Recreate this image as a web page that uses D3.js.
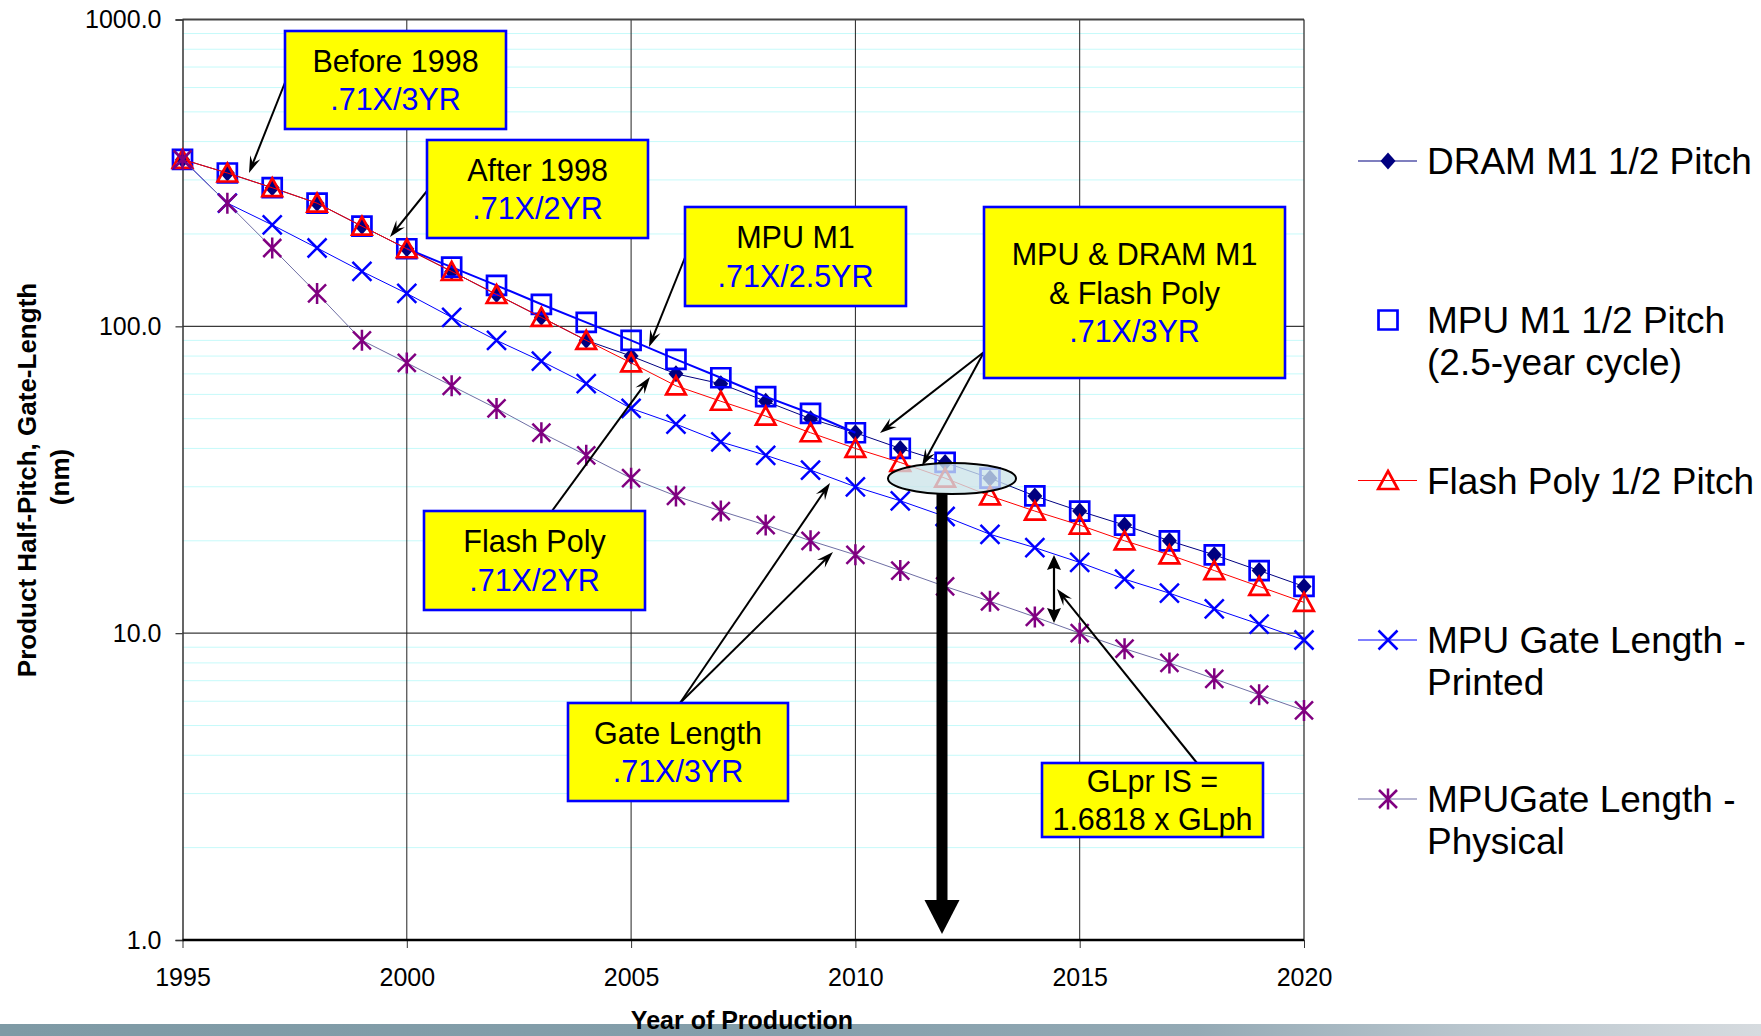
<!DOCTYPE html>
<html>
<head>
<meta charset="utf-8">
<script src="https://cdn.jsdelivr.net/npm/d3@7"></script>
<style>
  html, body { margin: 0; padding: 0; background: #ffffff; }
  svg { display: block; font-family: "Liberation Sans", Arial, sans-serif; }
</style>
</head>
<body>
<svg id="chart" width="1761" height="1036"></svg>
<script>
// ---- Data: feature size (nm) by year of production ----
const years = [1995, 1996, 1997, 1998, 1999, 2000, 2001, 2002, 2003, 2004, 2005, 2006, 2007,
               2008, 2009, 2010, 2011, 2012, 2013, 2014, 2015, 2016, 2017, 2018, 2019, 2020];

const dramM1HalfPitch = [350, 316, 283, 252, 212, 179, 151, 127, 107, 90, 80, 70, 65,
                         57, 50, 45, 40, 36, 32, 28, 25, 22.5, 20, 18, 16, 14.2];

const mpuM1HalfPitch = [350, 316, 283, 252, 212, 179, 156, 136, 118, 103, 90, 78, 68,
                        59, 52, 45, 40, 36, 32, 28, 25, 22.5, 20, 18, 16, 14.2];

const flashPolyHalfPitch = [350, 316, 283, 252, 212, 179, 151, 127, 107, 90, 76, 64, 57,
                            51, 45, 40, 36, 32, 28, 25, 22.5, 20, 18, 16, 14.2, 12.6];

const mpuGateLengthPrinted = [350, 252, 214, 180, 151, 128, 107, 90, 77, 65, 54, 48, 42,
                              38, 34, 30, 27, 24, 21, 19, 17, 15, 13.5, 12, 10.7, 9.5];

const mpuGateLengthPhysical = [350, 252, 180, 128, 90, 76, 64, 54, 45, 38, 32, 28, 25,
                               22.5, 20, 18, 16, 14.2, 12.7, 11.3, 10, 8.9, 8, 7.1, 6.3, 5.6];

// MPU M1 pitch follows its own 2.5-year cycle between these years
const mpuCycleYears = [2000, 2010];

const yTicks = [1, 10, 100, 1000];
const xTicks = [1995, 2000, 2005, 2010, 2015, 2020];

const legendLabels = [
  ["DRAM M1 1/2 Pitch"],
  ["MPU M1 1/2 Pitch", "(2.5-year cycle)"],
  ["Flash Poly 1/2 Pitch"],
  ["MPU Gate Length -", "Printed"],
  ["MPUGate Length -", "Physical"]
];

// ---- Series styling ----
const series = [
  { name: legendLabels[0], values: dramM1HalfPitch, marker: "diamond", line: "#000080", lineWidth: 1, legendLine: true },
  { name: legendLabels[1], values: mpuM1HalfPitch, marker: "square", line: "#0000ff", lineWidth: 2, legendLine: false, lineRange: mpuCycleYears },
  { name: legendLabels[2], values: flashPolyHalfPitch, marker: "triangle", line: "#ff0000", lineWidth: 1, legendLine: true },
  { name: legendLabels[3], values: mpuGateLengthPrinted, marker: "cross", line: "#0000ff", lineWidth: 1, legendLine: true },
  { name: legendLabels[4], values: mpuGateLengthPhysical, marker: "star", line: "#6e6ea4", lineWidth: 1, legendLine: true }
];

const FONT = "'Liberation Sans', Arial, sans-serif";
const svg = d3.select("#chart");

const plot = { left: 182.5, right: 1304, top: 19.5, bottom: 940 };
const x = d3.scaleLinear().domain([1995, 2020]).range([plot.left, plot.right]);
const y = d3.scaleLog().domain([1, 1000]).range([plot.bottom, plot.top]);

// ---- Background gridlines ----
const grid = svg.append("g");
const minorVals = [];
[1, 10, 100].forEach(dec => { for (let k = 2; k <= 9; k++) minorVals.push(dec * k); });
grid.selectAll("line.minor").data(minorVals).join("line")
  .attr("x1", plot.left).attr("x2", plot.right)
  .attr("y1", d => y(d)).attr("y2", d => y(d))
  .attr("stroke", "#c6fafa").attr("stroke-width", 1);

grid.selectAll("line.majorY").data([10, 100]).join("line")
  .attr("x1", plot.left).attr("x2", plot.right)
  .attr("y1", d => y(d)).attr("y2", d => y(d))
  .attr("stroke", "#3a3a3a").attr("stroke-width", 1.2);

grid.selectAll("line.majorX").data([2000, 2005, 2010, 2015]).join("line")
  .attr("x1", d => x(d)).attr("x2", d => x(d))
  .attr("y1", plot.top).attr("y2", plot.bottom)
  .attr("stroke", "#222").attr("stroke-width", 1);

// plot frame: top and right edges
grid.append("line").attr("x1", plot.left).attr("x2", plot.right)
  .attr("y1", y(1000)).attr("y2", y(1000)).attr("stroke", "#444").attr("stroke-width", 1.8);
grid.append("line").attr("x1", plot.right).attr("x2", plot.right)
  .attr("y1", plot.top).attr("y2", plot.bottom).attr("stroke", "#222").attr("stroke-width", 1.2);

// ---- Axes ----
const yAxis = svg.append("g")
  .attr("transform", `translate(${plot.left},0)`)
  .call(d3.axisLeft(y).tickValues(yTicks).tickFormat(d3.format(".1f")).tickSize(7).tickPadding(14));
yAxis.select(".domain").attr("stroke", "#333").attr("stroke-width", 1.5);
yAxis.selectAll(".tick line").attr("stroke", "#333").attr("stroke-width", 1.2);
yAxis.selectAll(".tick text").attr("font-size", 25).attr("fill", "#000").attr("font-family", FONT);

const xAxis = svg.append("g")
  .attr("transform", `translate(0,${plot.bottom})`)
  .call(d3.axisBottom(x).tickValues(xTicks).tickFormat(d => String(d)).tickSize(8).tickPadding(20));
xAxis.select(".domain").remove();
xAxis.selectAll(".tick line").attr("stroke", "#333").attr("stroke-width", 1);
xAxis.selectAll(".tick text").attr("font-size", 25).attr("fill", "#000").attr("font-family", FONT);
svg.append("line").attr("x1", plot.left).attr("x2", plot.right)
  .attr("y1", plot.bottom).attr("y2", plot.bottom)
  .attr("stroke", "#000").attr("stroke-width", 2.6);

// ---- Marker shapes ----
function markerPath(type) {
  switch (type) {
    case "diamond":  return "M0,-8.5L7.5,0L0,8.5L-7.5,0Z";
    case "square":   return "M-9.5,-9.5H9.5V9.5H-9.5Z";
    case "triangle": return "M0,-9.5L9.8,8.5H-9.8Z";
    case "cross":    return "M-9.5,-9.5L9.5,9.5M-9.5,9.5L9.5,-9.5";
    case "star":     return "M-9,-9L9,9M-9,9L9,-9M0,-10.5V10.5";
  }
}
const markerStyle = {
  diamond:  { fill: "#000080", stroke: "none", width: 0 },
  square:   { fill: "none", stroke: "#0000ff", width: 2.7 },
  triangle: { fill: "none", stroke: "#ff0000", width: 2.7 },
  cross:    { fill: "none", stroke: "#0000ff", width: 2.5 },
  star:     { fill: "none", stroke: "#800080", width: 2.5 }
};
function drawMarker(sel, type) {
  const st = markerStyle[type];
  sel.append("path").attr("d", markerPath(type))
    .attr("fill", st.fill).attr("stroke", st.stroke).attr("stroke-width", st.width)
    .attr("stroke-linejoin", "miter");
}

// ---- Series lines and markers ----
const lineGen = d3.line().x(d => x(d.year)).y(d => y(d.value));
const marks = svg.append("g");
series.forEach(s => {
  const pts = years.map((yr, i) => ({ year: yr, value: s.values[i] }));
  const linePts = s.lineRange ? pts.filter(p => p.year >= s.lineRange[0] && p.year <= s.lineRange[1]) : pts;
  const g = marks.append("g");
  g.append("path").datum(linePts).attr("d", lineGen)
    .attr("fill", "none").attr("stroke", s.line).attr("stroke-width", s.lineWidth);
  g.selectAll("g.pt").data(pts).join("g")
    .attr("transform", d => `translate(${x(d.year)},${y(d.value)})`)
    .each(function () { drawMarker(d3.select(this), s.marker); });
});

// ---- Highlight ellipse and the downward arrow at 2012 ----
const overlay = svg.append("g");
overlay.append("ellipse")
  .attr("cx", 952).attr("cy", 478.5).attr("rx", 64).attr("ry", 15.5)
  .attr("fill", "#cce4e9").attr("fill-opacity", 0.78)
  .attr("stroke", "#000").attr("stroke-width", 2);
overlay.append("rect").attr("x", 936.5).attr("y", 494).attr("width", 11).attr("height", 410).attr("fill", "#000");
overlay.append("path").attr("d", "M924.5,900L959.5,900L942,934Z").attr("fill", "#000");

// ---- Callout boxes ----
const callouts = [
  { x: 285, y: 31, w: 221, h: 98, lines: [["Before 1998", "#000"], [".71X/3YR", "#0000ff"]] },
  { x: 427, y: 140, w: 221, h: 98, lines: [["After 1998", "#000"], [".71X/2YR", "#0000ff"]] },
  { x: 685, y: 207, w: 221, h: 99, lines: [["MPU M1", "#000"], [".71X/2.5YR", "#0000ff"]] },
  { x: 984, y: 207, w: 301, h: 171, lines: [["MPU & DRAM M1", "#000"], ["& Flash Poly", "#000"], [".71X/3YR", "#0000ff"]] },
  { x: 424, y: 511, w: 221, h: 99, lines: [["Flash Poly", "#000"], [".71X/2YR", "#0000ff"]] },
  { x: 568, y: 703, w: 220, h: 98, lines: [["Gate Length", "#000"], [".71X/3YR", "#0000ff"]] },
  { x: 1042, y: 763, w: 221, h: 74, lines: [["GLpr IS =", "#000"], ["1.6818 x GLph", "#000"]] }
];
const leaders = [
  [286, 80, 249, 173],
  [427, 191, 390, 237],
  [686, 255, 649, 347],
  [984, 352, 880, 433],
  [984, 352, 922, 466],
  [552, 511, 650, 377],
  [680, 703, 830, 483],
  [680, 703, 833, 552],
  [1197, 763, 1057, 589]
];

function arrowHead(g, xTip, yTip, angle, len, wid, notch) {
  const p = [[0, 0], [-len, -wid / 2], [-len * notch, 0], [-len, wid / 2]];
  g.append("path")
    .attr("d", "M" + p.map(q => q.join(",")).join("L") + "Z")
    .attr("transform", `translate(${xTip},${yTip}) rotate(${angle * 180 / Math.PI})`)
    .attr("fill", "#000");
}

const ann = svg.append("g");
leaders.forEach(([x1, y1, x2, y2]) => {
  const a = Math.atan2(y2 - y1, x2 - x1);
  const back = 10;
  ann.append("line").attr("x1", x1).attr("y1", y1)
    .attr("x2", x2 - back * Math.cos(a)).attr("y2", y2 - back * Math.sin(a))
    .attr("stroke", "#000").attr("stroke-width", 2);
  arrowHead(ann, x2, y2, a, 17, 11, 0.62);
});

// double-headed arrow spanning printed vs physical gate length
ann.append("line").attr("x1", 1054).attr("y1", 566).attr("x2", 1054).attr("y2", 612)
  .attr("stroke", "#000").attr("stroke-width", 2.2);
arrowHead(ann, 1054, 555, -Math.PI / 2, 15, 14, 0.85);
arrowHead(ann, 1054, 623, Math.PI / 2, 15, 14, 0.85);

const boxes = svg.append("g").attr("font-family", FONT);
callouts.forEach(c => {
  const g = boxes.append("g");
  g.append("rect").attr("x", c.x).attr("y", c.y).attr("width", c.w).attr("height", c.h)
    .attr("fill", "#ffff00").attr("stroke", "#0000ff").attr("stroke-width", 2.6);
  const n = c.lines.length, lh = 38.4;
  const first = c.y + (c.h - (n - 1) * lh) / 2 + 11;
  c.lines.forEach((ln, i) => {
    g.append("text").attr("x", c.x + c.w / 2).attr("y", first + i * lh)
      .attr("text-anchor", "middle").attr("font-size", 30.5).attr("fill", ln[1]).text(ln[0]);
  });
});

// ---- Legend ----
const legendRows = [161, 320, 480.5, 640, 799];
const legend = svg.append("g").attr("font-family", FONT);
series.forEach((s, i) => {
  const g = legend.append("g").attr("transform", `translate(0,${legendRows[i]})`);
  if (s.legendLine) {
    g.append("line").attr("x1", 1358).attr("x2", 1417).attr("y1", 0).attr("y2", 0)
      .attr("stroke", s.line).attr("stroke-width", 1.2);
  }
  const m = g.append("g").attr("transform", "translate(1388,0)");
  drawMarker(m, s.marker);
  s.name.forEach((t, j) => {
    g.append("text").attr("x", 1427).attr("y", 13 + j * 42)
      .attr("font-size", 37).attr("fill", "#000").text(t);
  });
});

// ---- Axis titles ----
const yTitle = svg.append("g").attr("font-family", FONT).attr("font-weight", "bold")
  .attr("font-size", 26).attr("fill", "#000");
yTitle.append("text").attr("transform", "translate(36,480) rotate(-90)")
  .attr("text-anchor", "middle").text("Product Half-Pitch, Gate-Length");
yTitle.append("text").attr("transform", "translate(69,477) rotate(-90)")
  .attr("text-anchor", "middle").text("(nm)");

// ---- Footer band ----
const defs = svg.append("defs");
const grad = defs.append("linearGradient").attr("id", "footerBand")
  .attr("x1", "0").attr("x2", "1").attr("y1", "0").attr("y2", "0");
[[0, "#7e9aa5"], [0.45, "#849fab"], [0.68, "#94aab5"], [0.83, "#b8c5cd"], [1, "#d6dbdf"]]
  .forEach(([o, c]) => grad.append("stop").attr("offset", o).attr("stop-color", c));
svg.append("rect").attr("x", 0).attr("y", 1024).attr("width", 1761).attr("height", 12)
  .attr("fill", "url(#footerBand)");

svg.append("text").attr("x", 742).attr("y", 1029).attr("text-anchor", "middle")
  .attr("font-family", FONT).attr("font-weight", "bold").attr("font-size", 25).attr("fill", "#000")
  .text("Year of Production");
</script>
</body>
</html>
